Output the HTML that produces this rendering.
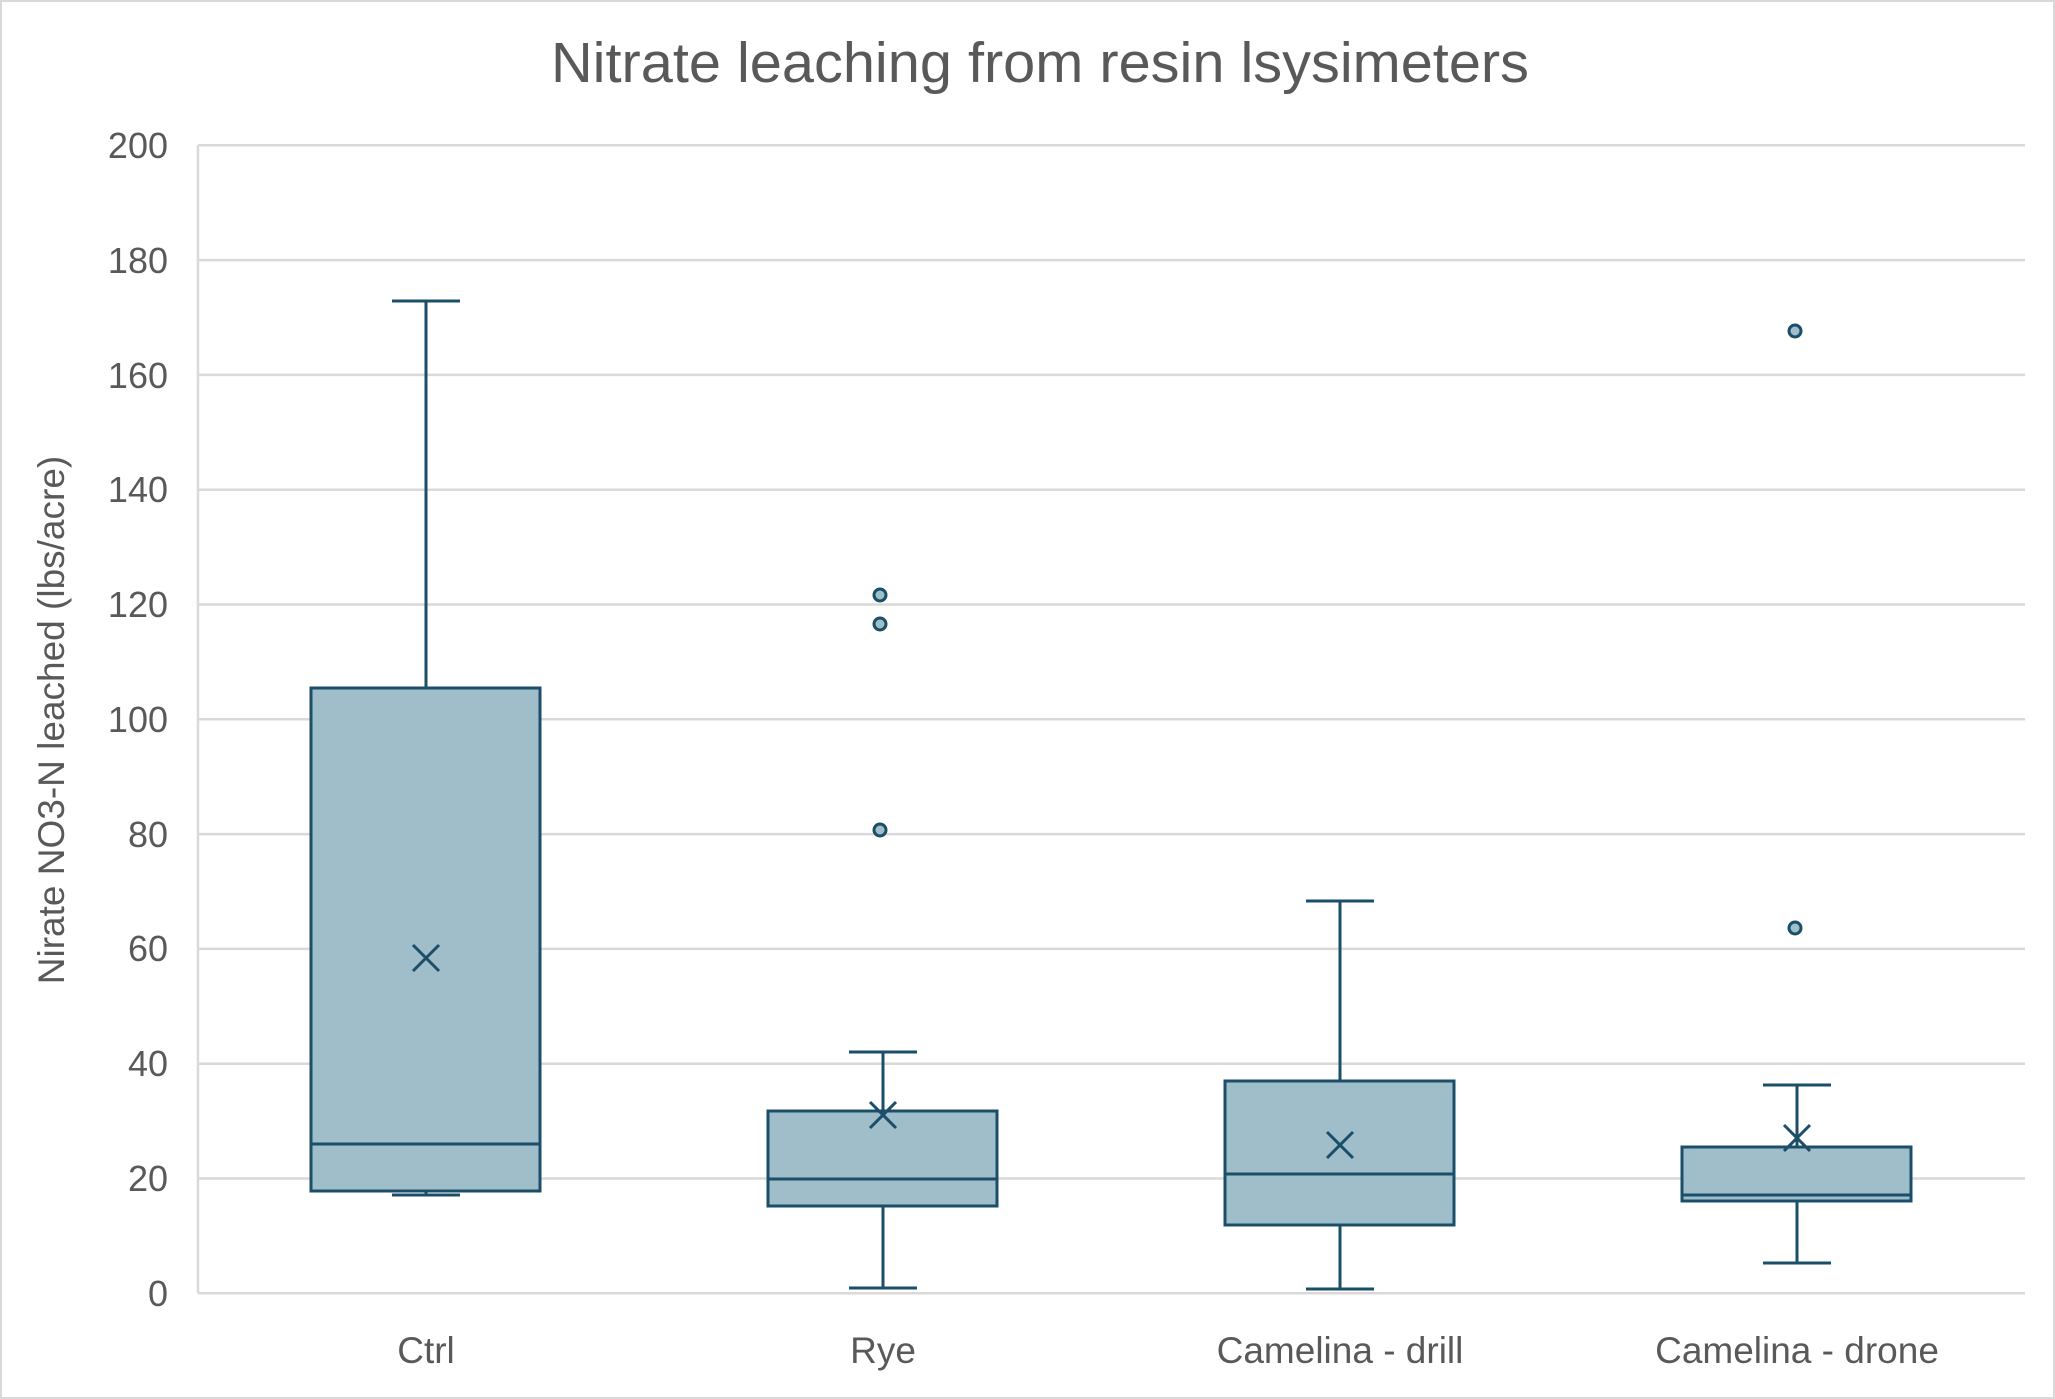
<!DOCTYPE html>
<html><head><meta charset="utf-8"><style>
html,body{margin:0;padding:0;background:#fff}
svg{display:block}
text{font-family:"Liberation Sans",sans-serif;fill:#595959}
</style></head><body>
<svg width="2055" height="1399" viewBox="0 0 2055 1399" xmlns="http://www.w3.org/2000/svg">
<rect x="1" y="1" width="2053" height="1397" fill="#fff" stroke="#d9d9d9" stroke-width="2"/>
<text x="1040" y="82" font-size="57" text-anchor="middle" textLength="978" lengthAdjust="spacingAndGlyphs">Nitrate leaching from resin lsysimeters</text>
<g stroke="#d9d9d9" stroke-width="2.5">
<line x1="198" y1="145.3" x2="2025" y2="145.3"/>
<line x1="198" y1="260.1" x2="2025" y2="260.1"/>
<line x1="198" y1="374.9" x2="2025" y2="374.9"/>
<line x1="198" y1="489.7" x2="2025" y2="489.7"/>
<line x1="198" y1="604.5" x2="2025" y2="604.5"/>
<line x1="198" y1="719.3" x2="2025" y2="719.3"/>
<line x1="198" y1="834.1" x2="2025" y2="834.1"/>
<line x1="198" y1="948.9" x2="2025" y2="948.9"/>
<line x1="198" y1="1063.7" x2="2025" y2="1063.7"/>
<line x1="198" y1="1178.5" x2="2025" y2="1178.5"/>
<line x1="198" y1="1293.3" x2="2025" y2="1293.3"/>
<line x1="198" y1="145.3" x2="198" y2="1293.3"/>
</g>
<g font-size="36" text-anchor="end">
<text x="168" y="158">200</text><text x="168" y="273">180</text><text x="168" y="388">160</text>
<text x="168" y="502">140</text><text x="168" y="617">120</text><text x="168" y="732">100</text>
<text x="168" y="847">80</text><text x="168" y="961">60</text><text x="168" y="1076">40</text>
<text x="168" y="1191">20</text><text x="168" y="1306">0</text>
</g>
<text transform="translate(64,720) rotate(-90)" font-size="37" text-anchor="middle">Nirate  NO3-N leached (lbs/acre)</text>
<g font-size="37" text-anchor="middle">
<text x="426" y="1363">Ctrl</text><text x="883" y="1363">Rye</text>
<text x="1340" y="1363">Camelina - drill</text><text x="1797" y="1363">Camelina - drone</text>
</g>
<g stroke="#1a4e69" stroke-width="3" fill="none">
<line x1="426" y1="301" x2="426" y2="688"/><line x1="392" y1="301" x2="460" y2="301"/>
<line x1="426" y1="1191" x2="426" y2="1195"/><line x1="392" y1="1195" x2="460" y2="1195"/>
<rect x="311" y="688" width="229" height="503" fill="#a0bdca"/>
<line x1="311" y1="1144" x2="540" y2="1144"/>
<path d="M413 945 L439 971 M439 945 L413 971"/>
<line x1="883" y1="1052" x2="883" y2="1111"/><line x1="849" y1="1052" x2="917" y2="1052"/>
<line x1="883" y1="1206" x2="883" y2="1288"/><line x1="849" y1="1288" x2="917" y2="1288"/>
<rect x="768" y="1111" width="229" height="95" fill="#a0bdca"/>
<line x1="768" y1="1179" x2="997" y2="1179"/>
<path d="M870 1102 L896 1128 M896 1102 L870 1128"/>
<circle cx="880" cy="595" r="6" fill="#a0bdca"/><circle cx="880" cy="624" r="6" fill="#a0bdca"/><circle cx="880" cy="830" r="6" fill="#a0bdca"/>
<line x1="1340" y1="901" x2="1340" y2="1081"/><line x1="1306" y1="901" x2="1374" y2="901"/>
<line x1="1340" y1="1225" x2="1340" y2="1289"/><line x1="1306" y1="1289" x2="1374" y2="1289"/>
<rect x="1225" y="1081" width="229" height="144" fill="#a0bdca"/>
<line x1="1225" y1="1174" x2="1454" y2="1174"/>
<path d="M1327 1132 L1353 1158 M1353 1132 L1327 1158"/>
<line x1="1797" y1="1085" x2="1797" y2="1147"/><line x1="1763" y1="1085" x2="1831" y2="1085"/>
<line x1="1797" y1="1201" x2="1797" y2="1263"/><line x1="1763" y1="1263" x2="1831" y2="1263"/>
<rect x="1682" y="1147" width="229" height="54" fill="#a0bdca"/>
<line x1="1682" y1="1195" x2="1911" y2="1195"/>
<path d="M1784 1125 L1810 1151 M1810 1125 L1784 1151"/>
<circle cx="1795" cy="331" r="6" fill="#a0bdca"/><circle cx="1795" cy="928" r="6" fill="#a0bdca"/>
</g>
</svg>
</body></html>
